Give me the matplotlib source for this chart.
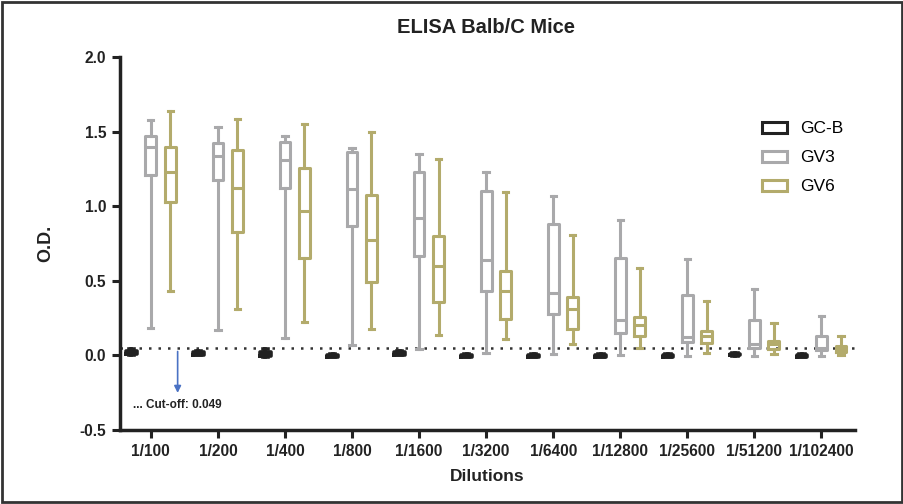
import matplotlib.pyplot as plt
from matplotlib.patches import Patch, Rectangle

plt.rcParams['font.family'] = ['Liberation Sans', 'DejaVu Sans']

dilutions = ['1/100', '1/200', '1/400', '1/800', '1/1600', '1/3200',
             '1/6400', '1/12800', '1/25600', '1/51200', '1/102400']

# five-number summaries: min, q1, median, q3, max
gcb = [
    [0.005, 0.012, 0.02, 0.03, 0.04],
    [0.0, 0.006, 0.012, 0.02, 0.03],
    [-0.012, -0.002, 0.01, 0.02, 0.045],
    [-0.012, -0.008, -0.003, 0.004, 0.008],
    [0.0, 0.006, 0.012, 0.02, 0.03],
    [-0.012, -0.008, -0.003, 0.004, 0.008],
    [-0.012, -0.008, -0.003, 0.004, 0.008],
    [-0.012, -0.008, -0.003, 0.004, 0.008],
    [-0.012, -0.008, -0.003, 0.004, 0.008],
    [-0.004, 0.0, 0.006, 0.012, 0.016],
    [-0.012, -0.008, -0.003, 0.004, 0.008],
]
gv3 = [
    [0.185, 1.21, 1.40, 1.473, 1.578],
    [0.17, 1.176, 1.339, 1.426, 1.528],
    [0.114, 1.12, 1.31, 1.428, 1.473],
    [0.067, 0.865, 1.114, 1.366, 1.39],
    [0.04, 0.664, 0.92, 1.232, 1.35],
    [0.018, 0.43, 0.642, 1.105, 1.232],
    [0.007, 0.279, 0.419, 0.88, 1.07],
    [0.0, 0.152, 0.236, 0.653, 0.905],
    [-0.004, 0.092, 0.125, 0.408, 0.646],
    [-0.004, 0.051, 0.074, 0.236, 0.448],
    [-0.004, 0.035, 0.05, 0.129, 0.263],
]
gv6 = [
    [0.43, 1.03, 1.228, 1.395, 1.64],
    [0.31, 0.83, 1.125, 1.377, 1.586],
    [0.225, 0.653, 0.965, 1.254, 1.55],
    [0.178, 0.49, 0.775, 1.076, 1.495],
    [0.14, 0.356, 0.597, 0.802, 1.319],
    [0.11, 0.247, 0.43, 0.564, 1.094],
    [0.074, 0.174, 0.312, 0.39, 0.809],
    [0.047, 0.129, 0.207, 0.256, 0.586],
    [0.018, 0.08, 0.129, 0.167, 0.368],
    [0.007, 0.04, 0.074, 0.096, 0.218],
    [0.0, 0.022, 0.045, 0.062, 0.129],
]
cutoff = 0.049

groups = [('GC-B', gcb, '#222222'), ('GV3', gv3, '#a9a9ab'), ('GV6', gv6, '#b3ab6c')]
offsets = [-0.29, 0.0, 0.29]

fig = plt.figure(figsize=(9.04, 5.04), dpi=100)
ax = fig.add_axes([0.1327, 0.1468, 0.8131, 0.740])

for (name, data, col), off in zip(groups, offsets):
    stats = []
    for d in data:
        stats.append({'whislo': d[0], 'q1': d[1], 'med': d[2], 'q3': d[3], 'whishi': d[4]})
    lw = 2.6 if name == 'GC-B' else 2.2
    ax.bxp(stats, positions=[i + off for i in range(len(data))], widths=0.16,
           showfliers=False, capwidths=0.08, manage_ticks=False,
           boxprops=dict(color=col, linewidth=lw),
           whiskerprops=dict(color=col, linewidth=lw),
           capprops=dict(color=col, linewidth=lw),
           medianprops=dict(color=col, linewidth=lw))

ax.axhline(cutoff, color='#333333', linestyle=(0, (1, 2.8)), linewidth=1.8, zorder=0)
ax.annotate('', xy=(0.4, -0.27), xytext=(0.4, 0.045),
            arrowprops=dict(arrowstyle='-|>', color='#4a72c4', lw=1.2, mutation_scale=10))
ax.text(-0.27, -0.33, '... Cut-off: 0.049', fontsize=8.5, fontweight='bold',
        color='#222222', va='center')

ax.set_xlim(-0.46, 10.5)
ax.set_ylim(-0.5, 2.0)
ax.set_xticks(range(len(dilutions)))
ax.set_xticklabels(dilutions)
ax.set_yticks([-0.5, 0.0, 0.5, 1.0, 1.5, 2.0])
ax.set_yticklabels(['-0.5', '0.0', '0.5', '1.0', '1.5', '2.0'])
for lab in ax.get_xticklabels() + ax.get_yticklabels():
    lab.set_fontweight('bold')
    lab.set_fontsize(11.2)
    lab.set_color('#222222')
ax.tick_params(width=2.2, length=6, color='#222222', pad=4)
for s in ['top', 'right']:
    ax.spines[s].set_visible(False)
for s in ['left', 'bottom']:
    ax.spines[s].set_linewidth(2.5)
    ax.spines[s].set_color('#222222')

ax.set_ylabel('O.D.', fontsize=13, fontweight='bold', labelpad=18, color='#222222')
ax.set_xlabel('Dilutions', fontsize=12.5, fontweight='bold', labelpad=7, color='#222222')
fig.text(0.538, 0.946, 'ELISA Balb/C Mice', ha='center', va='center',
         fontsize=14.5, fontweight='bold', color='#222222')

handles = [Patch(facecolor='white', edgecolor=c, linewidth=2.2, label=n) for n, _, c in groups]
fig.legend(handles=handles, loc='upper left', bbox_to_anchor=(0.826, 0.79),
           frameon=False, fontsize=12.5, handlelength=1.4, handleheight=0.6,
           labelspacing=0.8, handletextpad=0.8)

fig.patches.append(Rectangle((0.002, 0.003), 0.996, 0.994, transform=fig.transFigure,
                             fill=False, edgecolor='#333333', linewidth=2))

fig.savefig('out.png', dpi=100)
